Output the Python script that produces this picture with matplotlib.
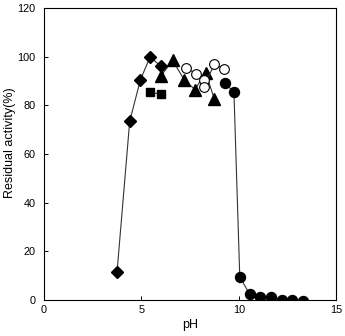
import matplotlib
matplotlib.use("Agg")
import matplotlib.pyplot as plt

plt.rcParams['font.family'] = ['Liberation Sans', 'DejaVu Sans']

# residual activity (%) after incubation at each pH, one buffer per series
ph_diamond = [3.75, 4.4, 4.95, 5.45, 6.0]
act_diamond = [11.5, 73.5, 90.5, 100, 96]

ph_square = [5.45, 6.0]
act_square = [85.5, 84.5]

ph_triangle = [6.0, 6.6, 7.2, 7.75, 8.3, 8.75]
act_triangle = [92, 98.5, 90.5, 86.5, 93.5, 82.5]

ph_open = [7.3, 7.8, 8.2, 8.2, 8.75, 9.25]
act_open = [95.5, 93, 90.5, 87.5, 97, 95]

ph_circle = [9.3, 9.75, 10.05, 10.55, 11.1, 11.65, 12.2, 12.75, 13.3]
act_circle = [89, 85.5, 9.5, 2.5, 1.3, 1.3, 0.2, 0, -0.3]

x_ticks = [0, 5, 10, 15]
y_ticks = [0, 20, 40, 60, 80, 100, 120]

fig = plt.figure(figsize=(3.45, 3.36), dpi=100)
ax = fig.add_axes([0.1275, 0.107, 0.847, 0.869])

line_kw = dict(color='#333333', linewidth=0.8)
ax.plot(ph_diamond, act_diamond, marker='D', markersize=6.2, mfc='black', mec='black', **line_kw)
ax.plot(ph_square, act_square, marker='s', markersize=6, mfc='black', mec='black', **line_kw)
ax.plot(ph_triangle, act_triangle, marker='^', markersize=8.5, mfc='black', mec='black', **line_kw)
ax.plot(ph_open, act_open, marker='o', markersize=7, mfc='white', mec='black', mew=0.8, **line_kw)
ax.plot(ph_circle, act_circle, marker='o', markersize=7.2, mfc='black', mec='black', **line_kw)

ax.set_xlim(0, 15)
ax.set_ylim(0, 120)
ax.set_xticks(x_ticks)
ax.set_yticks(y_ticks)
ax.tick_params(direction='in', length=3, width=0.7, labelsize=7.8)
ax.tick_params(axis='y', pad=6)
ax.tick_params(axis='x', pad=3.5)
for s in ax.spines.values():
    s.set_linewidth(0.8)
ax.set_xlabel('pH', fontsize=9, labelpad=3)
ax.set_ylabel('Residual activity(%)', fontsize=9, labelpad=1)
ax.yaxis.set_label_coords(-0.095, 0.54)

fig.savefig('out.png', dpi=100)
